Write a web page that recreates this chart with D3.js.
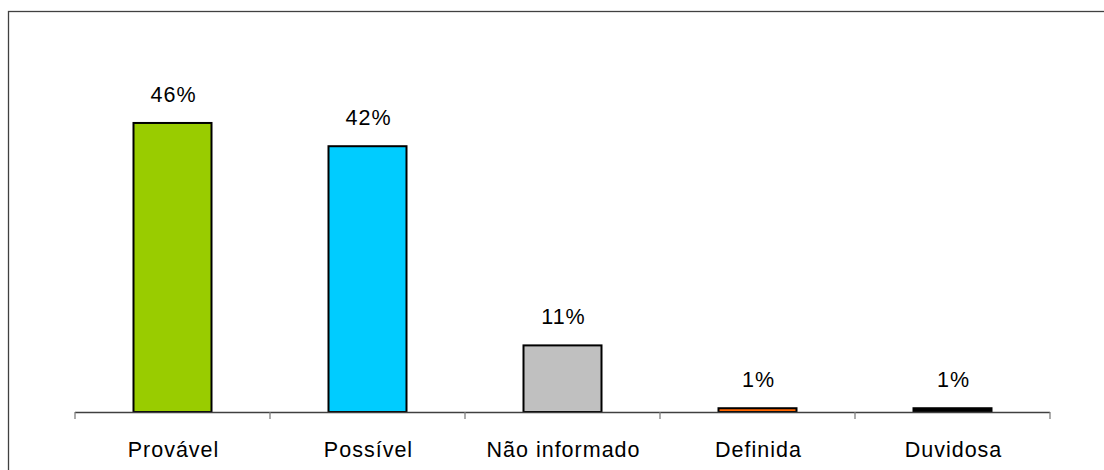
<!DOCTYPE html>
<html>
<head>
<meta charset="utf-8">
<script src="https://cdn.jsdelivr.net/npm/d3@7"></script>
<style>
  body { margin: 0; background: #fff; }
  svg { display: block; }
  .lbl { font-family: "Liberation Sans", Arial, sans-serif; font-size: 21.5px; letter-spacing: 1px; fill: #000; }
</style>
</head>
<body>
<svg id="chart" width="1104" height="470"></svg>
<script>
// categories and values (percent)
const categories = ['Provável', 'Possível', 'Não informado', 'Definida', 'Duvidosa'];
const values = [46, 42.3, 10.6, 0.6, 0.6];
const valueLabels = ['46%', '42%', '11%', '1%', '1%'];
const colors = ['#99CC00', '#00CCFF', '#C0C0C0', '#FF6600', '#000000'];

let margin = { top: 35, left: 75, right: 54, bottom: 58 },
  width = 1104 - margin.left - margin.right,
  height = 470 - margin.top - margin.bottom

let svg = d3.select('#chart')

// outer frame, runs off the right and bottom edge
svg.append('rect')
  .attr('x', 8.5)
  .attr('y', 11.5)
  .attr('width', 1200)
  .attr('height', 600)
  .attr('fill', 'none')
  .attr('stroke', '#404040')
  .attr('stroke-width', 1.3)

let g = svg.append('g')
  .attr('transform', 'translate(' + margin.left + ',' + margin.top + ')')

let x = d3.scaleBand()
  .domain(categories)
  .range([0, width])
  .paddingInner(0.6)
  .paddingOuter(0.3)

let y = d3.scaleLinear()
  .domain([0, 60])
  .range([height, 0])

let data = categories.map(function(c, i) {
  return { cat: c, value: values[i], label: valueLabels[i], color: colors[i] }
})

g.selectAll('rect.bar')
  .data(data)
  .enter().append('rect')
  .attr('class', 'bar')
  .attr('x', d => x(d.cat))
  .attr('y', d => y(d.value))
  .attr('width', x.bandwidth())
  .attr('height', d => height - y(d.value))
  .attr('fill', d => d.color)
  .attr('stroke', '#000')
  .attr('stroke-width', 2)

g.selectAll('text.val')
  .data(data)
  .enter().append('text')
  .attr('class', 'lbl val')
  .attr('x', d => x(d.cat) + x.bandwidth() / 2 + 1)
  .attr('y', d => y(d.value) - 21)
  .attr('text-anchor', 'middle')
  .text(d => d.label)

// category axis: ticks at band boundaries
let step = x.step()
let axis = g.append('g')
  .attr('transform', 'translate(0,' + height + ')')

axis.append('line')
  .attr('x1', 0).attr('x2', width)
  .attr('y1', 0.5).attr('y2', 0.5)
  .attr('stroke', '#404040')
  .attr('stroke-width', 1.3)

axis.selectAll('line.tick')
  .data(d3.range(categories.length + 1))
  .enter().append('line')
  .attr('class', 'tick')
  .attr('x1', i => i * step).attr('x2', i => i * step)
  .attr('y1', 0).attr('y2', 7)
  .attr('stroke', '#808080')
  .attr('stroke-width', 1.3)

axis.selectAll('text.cat')
  .data(categories)
  .enter().append('text')
  .attr('class', 'lbl cat')
  .attr('x', d => x(d) + x.bandwidth() / 2 + 1)
  .attr('y', 45)
  .attr('text-anchor', 'middle')
  .text(d => d)
</script>
</body>
</html>
